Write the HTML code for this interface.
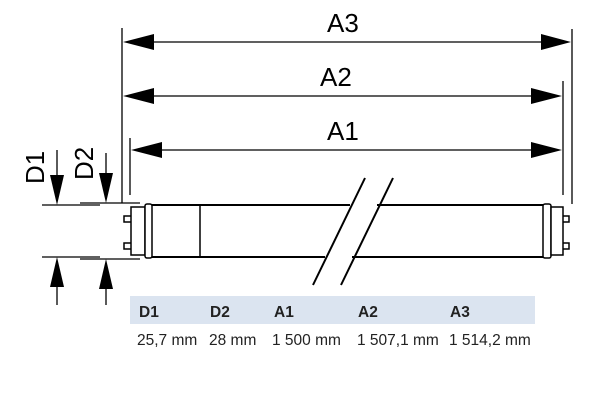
<!DOCTYPE html>
<html><head><meta charset="utf-8"><style>
html,body{margin:0;padding:0;background:#fff;width:600px;height:409px;overflow:hidden}
</style></head><body>
<svg width="600" height="409" viewBox="0 0 600 409" xmlns="http://www.w3.org/2000/svg" font-family="Liberation Sans, sans-serif">
<g stroke="#000" stroke-width="1.3" fill="none">
<line x1="122" y1="28" x2="122" y2="203"/>
<line x1="130" y1="138" x2="130" y2="195"/>
<line x1="572" y1="29" x2="572" y2="204"/>
<line x1="563" y1="81" x2="563" y2="195"/>
<line x1="140" y1="42" x2="555" y2="42"/>
<line x1="140" y1="96" x2="545" y2="96"/>
<line x1="148" y1="150" x2="545" y2="150"/>
<line x1="42" y1="205" x2="100" y2="205"/>
<line x1="42" y1="257" x2="100" y2="257"/>
<line x1="80" y1="203" x2="140" y2="203"/>
<line x1="80" y1="259" x2="140" y2="259"/>
<line x1="57" y1="150" x2="57" y2="190"/>
<line x1="57" y1="270" x2="57" y2="305"/>
<line x1="106" y1="153" x2="106" y2="190"/>
<line x1="106" y1="272" x2="106" y2="305"/>
</g>
<g fill="#000">
<polygon points="123,42 154,34 154,50"/>
<polygon points="571,42 541,34 541,50"/>
<polygon points="123,96 154,88 154,104"/>
<polygon points="562,96 531,88 531,104"/>
<polygon points="131,150 162,142 162,158"/>
<polygon points="562,150 531,142 531,158"/>
<polygon points="57,205 50,175 64,175"/>
<polygon points="57,257 50,287 64,287"/>
<polygon points="106,203 99,173 113,173"/>
<polygon points="106,259 99,289 113,289"/>
</g>
<g stroke="#000" stroke-width="2" fill="#fff">
<rect x="131" y="207" width="14" height="48" stroke-width="1.5"/>
<rect x="145" y="204" width="7" height="54" rx="2" stroke-width="1.5"/>
<line x1="152" y1="205" x2="350" y2="205"/>
<line x1="152" y1="257" x2="325" y2="257"/>
<line x1="377" y1="205" x2="543" y2="205"/>
<line x1="352" y1="257" x2="543" y2="257"/>
<line x1="200" y1="205" x2="200" y2="257" stroke-width="1.5"/>
<rect x="543" y="204" width="8" height="54" rx="2" stroke-width="1.5"/>
<rect x="551" y="207" width="12" height="48" stroke-width="1.5"/>
<line x1="313" y1="285" x2="365" y2="178"/>
<line x1="341" y1="285" x2="393" y2="178"/>
</g>
<g stroke="#000" stroke-width="1.5" fill="none">
<path d="M131 216 h-7 v6 h7"/>
<path d="M131 243 h-7 v6 h7"/>
<path d="M563 216 h6 v6 h-6"/>
<path d="M563 243 h6 v6 h-6"/>
</g>
<g font-size="26" fill="#000">
<text x="327" y="32">A3</text>
<text x="320" y="86">A2</text>
<text x="327" y="140">A1</text>
<text transform="translate(44,184) rotate(-90)">D1</text>
<text transform="translate(93,180) rotate(-90)">D2</text>
</g>
<rect x="130" y="296" width="405" height="28" fill="#dbe4f0"/>
<g font-size="15.5" fill="#222">
<g font-weight="bold">
<text x="139" y="317">D1</text>
<text x="210" y="317">D2</text>
<text x="274" y="317">A1</text>
<text x="358" y="317">A2</text>
<text x="450" y="317">A3</text>
</g>
<text x="137" y="345">25,7 mm</text>
<text x="209" y="345">28 mm</text>
<text x="272" y="345">1 500 mm</text>
<text x="357" y="345">1 507,1 mm</text>
<text x="449" y="345">1 514,2 mm</text>
</g>
</svg>
</body></html>
